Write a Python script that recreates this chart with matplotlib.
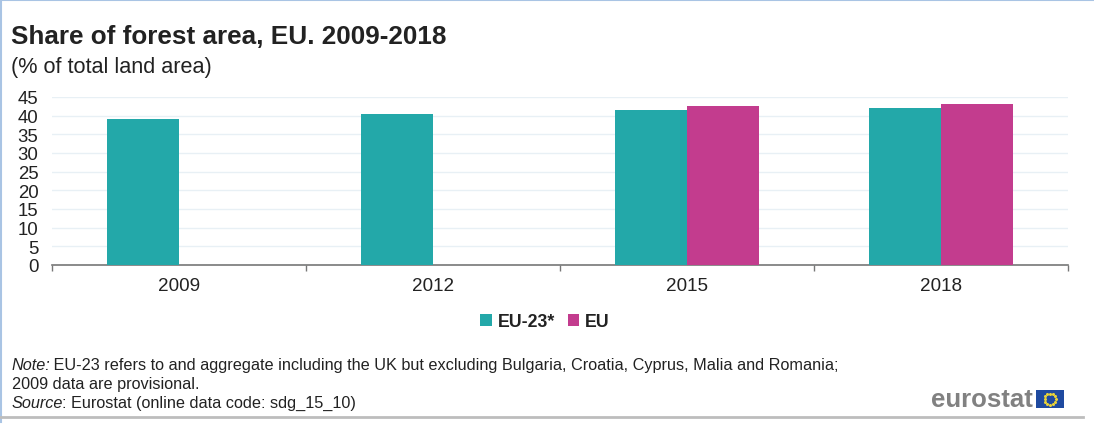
import matplotlib
matplotlib.use("Agg")
import matplotlib.pyplot as plt
from matplotlib.patches import Rectangle
from matplotlib.lines import Line2D
import numpy as np

plt.rcParams["font.family"] = ["Liberation Sans", "DejaVu Sans"]

years = ["2009", "2012", "2015", "2018"]
eu23 = [39.2, 40.5, 41.6, 42.1]
eu = [np.nan, np.nan, 42.5, 43.2]
series_names = ["EU-23*", "EU"]
yticks = [0, 5, 10, 15, 20, 25, 30, 35, 40, 45]

TEAL = "#23a8a9"
MAGENTA = "#c33c8e"
TEXT = "#222222"
W, H = 1094, 427

fig = plt.figure(figsize=(W / 100, H / 100), dpi=100)
fig.patch.set_facecolor("white")


def fx(px):
    return px / W


def fy(py):
    return 1 - py / H


# frame lines
fig.add_artist(Line2D([0, 1], [fy(1), fy(1)], color="#a9c4e4", lw=1.5))
fig.add_artist(Line2D([fx(1), fx(1)], [fy(0), fy(423)], color="#a9c4e4", lw=1.5))
fig.add_artist(Line2D([0, fx(1083)], [fy(418), fy(418)], color="#bdbdbd", lw=2))

fig.text(fx(11), fy(44), "Share of forest area, EU. 2009-2018", fontsize=18.8,
         fontweight="bold", color=TEXT, va="baseline", ha="left")
fig.text(fx(11), fy(73), "(% of total land area)", fontsize=15.6,
         color=TEXT, va="baseline", ha="left")

ax = fig.add_axes([fx(52), fy(266), fx(1068) - fx(52), fy(98) - fy(266)])
x = np.arange(len(years))
bw = 72 / 254
ax.bar(x - bw / 2, eu23, width=bw, color=TEAL, label=series_names[0], zorder=3)
ax.bar(x + bw / 2, eu, width=bw, color=MAGENTA, label=series_names[1], zorder=3)

ax.set_xlim(-0.5, len(years) - 0.5)
ax.set_ylim(0, 45)
ax.set_yticks(yticks)
ax.set_yticklabels([str(v) for v in yticks], fontsize=13.4, color=TEXT)
ax.tick_params(axis="y", length=0, pad=9.8)
ax.set_xticks(x)
ax.set_xticklabels(years, fontsize=13.6, color=TEXT)
ax.tick_params(axis="x", which="major", length=0, pad=8.5)
ax.set_xticks(np.arange(-0.5, len(years)), minor=True)
ax.tick_params(axis="x", which="minor", length=4, color="#777777", width=1)
ax.grid(axis="y", color="#e8f0f5", lw=1, zorder=0)
for s in ["top", "right", "left"]:
    ax.spines[s].set_visible(False)
ax.spines["bottom"].set_color("#777777")
ax.spines["bottom"].set_linewidth(1.2)

# legend
leg = fig.legend(loc="center", bbox_to_anchor=(fx(545), fy(323)), ncol=2,
                 frameon=False, handlelength=0.65, handleheight=0.65,
                 handletextpad=0.35, columnspacing=0.7,
                 prop={"weight": "bold", "size": 12.8})
for t in leg.get_texts():
    t.set_color(TEXT)

# notes
note_lines = [
    (370, "Note:", " EU-23 refers to and aggregate including the UK but excluding Bulgaria, Croatia, Cyprus, Malia and Romania;"),
    (389, "", "2009 data are provisional."),
    (408, "Source", ": Eurostat (online data code: sdg_15_10)"),
]
renderer = fig.canvas.get_renderer()
for ypx, ital, rest in note_lines:
    xpos = fx(12)
    if ital:
        t = fig.text(xpos, fy(ypx), ital, fontsize=11.7, style="italic",
                     color=TEXT, va="baseline", ha="left")
        bb = t.get_window_extent(renderer)
        xpos = (bb.x1 - 1.5) / W
    fig.text(xpos, fy(ypx), rest, fontsize=11.7, color=TEXT, va="baseline", ha="left")

# eurostat logo
fig.text(fx(1033), fy(407), "eurostat", fontsize=18.5, fontweight="bold",
         color="#818181", ha="right", va="baseline")
fig.add_artist(Rectangle((fx(1036), fy(409)), fx(1064) - fx(1036), fy(391) - fy(409),
                         transform=fig.transFigure, facecolor="#1f4aa0", edgecolor="none"))
ang = np.linspace(0, 2 * np.pi, 12, endpoint=False)
fig.add_artist(Line2D(fx(1050) + fx(5.5) * np.cos(ang), fy(400) + (5.5 / H) * np.sin(ang),
                      linestyle="none", marker="o", markersize=1.2, color="#e8d23a",
                      transform=fig.transFigure))

fig.savefig("out.png", dpi=100, facecolor="white")
